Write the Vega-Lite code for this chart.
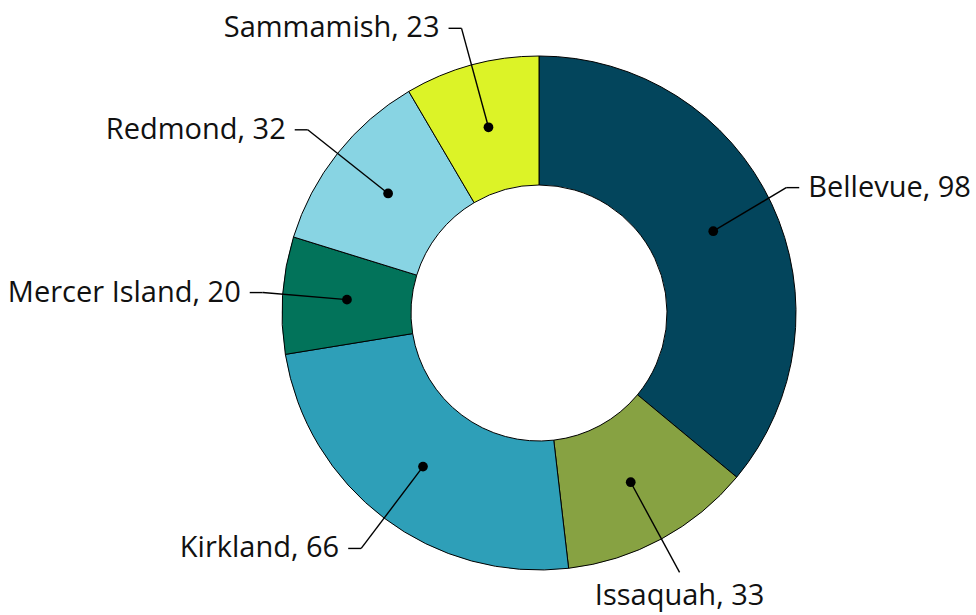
{
  "$schema": "https://vega.github.io/schema/vega-lite/v6.json",
  "width": 874,
  "height": 604,
  "padding": {"left": 102, "top": 11, "right": 0, "bottom": 0},
  "autosize": {"type": "none"},
  "background": "white",
  "config": {"view": {"stroke": null}, "font": "Open Sans"},
  "data": {
    "values": [
      {"city": "Bellevue", "value": 98},
      {"city": "Issaquah", "value": 33},
      {"city": "Kirkland", "value": 66},
      {"city": "Mercer Island", "value": 20},
      {"city": "Redmond", "value": 32},
      {"city": "Sammamish", "value": 23}
    ]
  },
  "transform": [
    {"joinaggregate": [{"op": "sum", "field": "value", "as": "total"}]},
    {"window": [{"op": "sum", "field": "value", "as": "cum"}], "sort": [{"field": "city", "order": "ascending"}], "frame": [null, 0]},
    {"calculate": "(datum.cum - datum.value / 2) / datum.total * 2 * PI", "as": "mid"},
    {"calculate": "0.749 * sin(datum.mid)", "as": "dotX"},
    {"calculate": "0.749 * cos(datum.mid)", "as": "dotY"},
    {"calculate": "cos(datum.mid) < -0.85", "as": "bottom"},
    {"calculate": "sin(datum.mid) >= 0 ? 1 : -1", "as": "side"},
    {"calculate": "clamp(1.148 * sin(datum.mid), -1.075, 0.962)", "as": "elbowX"},
    {"calculate": "1.148 * cos(datum.mid)", "as": "elbowY"},
    {"calculate": "datum.bottom ? datum.elbowX : datum.elbowX + datum.side * 13 / 257", "as": "hEndX"},
    {"calculate": "datum.bottom ? datum.elbowX : datum.hEndX + datum.side * 9 / 257", "as": "textX"},
    {"calculate": "datum.bottom ? datum.elbowY - 33 / 257 : datum.elbowY", "as": "textY"},
    {"calculate": "datum.city + ', ' + datum.value", "as": "label"}
  ],
  "layer": [
    {
      "mark": {"type": "arc", "innerRadius": 128, "outerRadius": 257, "stroke": "#000000", "strokeWidth": 1},
      "encoding": {
        "theta": {"field": "value", "type": "quantitative", "stack": true},
        "order": {"field": "cum", "type": "quantitative", "sort": "ascending"},
        "color": {
          "field": "city",
          "type": "nominal",
          "scale": {
            "domain": ["Bellevue", "Issaquah", "Kirkland", "Mercer Island", "Redmond", "Sammamish"],
            "range": ["#03455c", "#87a242", "#2e9fb8", "#02735a", "#88d4e3", "#dcf327"]
          },
          "legend": null
        }
      }
    },
    {
      "mark": {"type": "rule", "color": "#000000", "strokeWidth": 1.4},
      "encoding": {
        "x": {"field": "dotX", "type": "quantitative", "scale": {"domain": [-1.70039, 1.70039], "nice": false, "zero": false}, "axis": null},
        "y": {"field": "dotY", "type": "quantitative", "scale": {"domain": [-1.17510, 1.17510], "nice": false, "zero": false}, "axis": null},
        "x2": {"field": "elbowX"},
        "y2": {"field": "elbowY"}
      }
    },
    {
      "transform": [{"filter": "!datum.bottom"}],
      "mark": {"type": "rule", "color": "#000000", "strokeWidth": 1.4},
      "encoding": {
        "x": {"field": "elbowX", "type": "quantitative", "scale": {"domain": [-1.70039, 1.70039], "nice": false, "zero": false}, "axis": null},
        "y": {"field": "elbowY", "type": "quantitative", "scale": {"domain": [-1.17510, 1.17510], "nice": false, "zero": false}, "axis": null},
        "x2": {"field": "hEndX"},
        "y2": {"field": "elbowY"}
      }
    },
    {
      "mark": {"type": "point", "filled": true, "color": "#000000", "opacity": 1, "size": 95},
      "encoding": {
        "x": {"field": "dotX", "type": "quantitative", "scale": {"domain": [-1.70039, 1.70039], "nice": false, "zero": false}, "axis": null},
        "y": {"field": "dotY", "type": "quantitative", "scale": {"domain": [-1.17510, 1.17510], "nice": false, "zero": false}, "axis": null}
      }
    },
    {
      "transform": [{"filter": "!datum.bottom && datum.side < 0"}],
      "mark": {"type": "text", "align": "right", "baseline": "middle", "fontSize": 29, "font": "Open Sans", "color": "#111111"},
      "encoding": {
        "x": {"field": "textX", "type": "quantitative", "scale": {"domain": [-1.70039, 1.70039], "nice": false, "zero": false}, "axis": null},
        "y": {"field": "textY", "type": "quantitative", "scale": {"domain": [-1.17510, 1.17510], "nice": false, "zero": false}, "axis": null},
        "text": {"field": "label"}
      }
    },
    {
      "transform": [{"filter": "!datum.bottom && datum.side > 0"}],
      "mark": {"type": "text", "align": "left", "baseline": "middle", "fontSize": 29, "font": "Open Sans", "color": "#111111"},
      "encoding": {
        "x": {"field": "textX", "type": "quantitative", "scale": {"domain": [-1.70039, 1.70039], "nice": false, "zero": false}, "axis": null},
        "y": {"field": "textY", "type": "quantitative", "scale": {"domain": [-1.17510, 1.17510], "nice": false, "zero": false}, "axis": null},
        "text": {"field": "label"}
      }
    },
    {
      "transform": [{"filter": "datum.bottom"}],
      "mark": {"type": "text", "align": "center", "baseline": "alphabetic", "fontSize": 29, "font": "Open Sans", "color": "#111111"},
      "encoding": {
        "x": {"field": "textX", "type": "quantitative", "scale": {"domain": [-1.70039, 1.70039], "nice": false, "zero": false}, "axis": null},
        "y": {"field": "textY", "type": "quantitative", "scale": {"domain": [-1.17510, 1.17510], "nice": false, "zero": false}, "axis": null},
        "text": {"field": "label"}
      }
    }
  ]
}
